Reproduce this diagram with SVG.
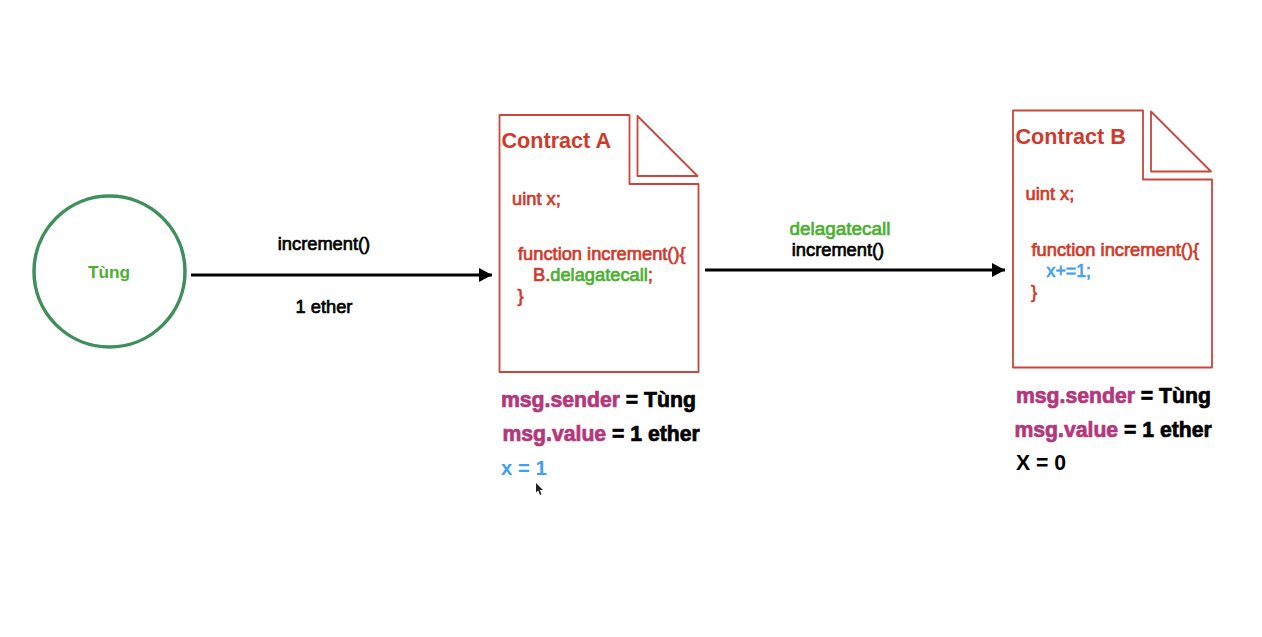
<svg xmlns="http://www.w3.org/2000/svg" width="1262" height="637" viewBox="0 0 1262 637">
<defs>
<marker id="arrow" markerUnits="userSpaceOnUse" markerWidth="14" markerHeight="15" refX="13" refY="7" orient="auto"><path d="M0 0L13 7L0 14Z" fill="#000"/></marker>
<g id="page"><path class="doc" d="M0 0H130V69H199V257H0Z"/><path class="doc" d="M138 1V61H198Z"/></g>
</defs>
<style>
text{font-family:"Liberation Sans",Arial,sans-serif;font-weight:400;stroke-width:.7;paint-order:stroke}
.doc{fill:none;stroke:#c9463c;stroke-width:1.800;stroke-linejoin:round}
.r{fill:#cf3a2b;stroke:#cf3a2b}.g{fill:#4caf32;stroke:#4caf32}.b{fill:#42a0f0;stroke:#42a0f0}.k{fill:#000;stroke:#000}.p{fill:#b3377a;stroke:#b3377a}
.t{font-size:21.600px;font-weight:700;stroke:none}.c{font-size:18.300px}.l{font-size:18.300px}.v{font-size:21.200px;font-weight:700;stroke:none}
.line{stroke:#000;stroke-width:3;fill:none;marker-end:url(#arrow)}
</style>
<g id="connectors">
<path class="line" d="M191 275H492"/>
<path class="line" d="M705 270H1005"/>
</g>
<g id="tung">
<circle cx="109.500" cy="271.500" r="75.500" fill="none" stroke="#3f8f5c" stroke-width="3.500"/>
<text class="g" x="109" y="277.500" text-anchor="middle" style="font-size:17.300px;font-weight:700;stroke:none">Tùng</text>
</g>
<g id="label-1">
<text class="k l" x="324" y="249.500" text-anchor="middle">increment()</text>
<text class="k l" x="324" y="312.500" text-anchor="middle">1 ether</text>
</g>
<g id="label-2">
<text class="g l" x="840" y="234.500" text-anchor="middle" style="font-size:18.900px">delagatecall</text>
<text class="k l" x="838" y="255.500" text-anchor="middle">increment()</text>
</g>
<g id="contract-a">
<use href="#page" x="499.500" y="115"/>
<text class="r t" x="501.500" y="148">Contract A</text>
<text class="r c" x="512" y="204.500">uint x;</text>
<text class="r c" x="518" y="260">function increment(){</text>
<text class="r c" x="533" y="281">B.<tspan class="g">delagatecall</tspan>;</text>
<text class="r c" x="517.500" y="302">}</text>
</g>
<g id="state-a">
<text class="v" x="501" y="407"><tspan class="p">msg.sender</tspan><tspan class="k"> = Tùng</tspan></text>
<text class="v" x="502.500" y="441"><tspan class="p">msg.value</tspan><tspan class="k"> = 1 ether</tspan></text>
<text class="v b" x="501" y="475" style="font-size:20.300px">x = 1</text>
</g>
<g id="contract-b">
<use href="#page" x="1013" y="110.500"/>
<text class="r t" x="1015.500" y="143.500">Contract B</text>
<text class="r c" x="1025.500" y="199.500">uint x;</text>
<text class="r c" x="1031.500" y="255.500">function increment(){</text>
<text class="b c" x="1046.500" y="276.500" style="font-size:17.800px">x+=1;</text>
<text class="r c" x="1031" y="297.500">}</text>
</g>
<g id="state-b">
<text class="v" x="1016" y="402.500"><tspan class="p">msg.sender</tspan><tspan class="k"> = Tùng</tspan></text>
<text class="v" x="1014.500" y="436.500"><tspan class="p">msg.value</tspan><tspan class="k"> = 1 ether</tspan></text>
<text class="v k" x="1016" y="470">X = 0</text>
</g>
<path id="cursor" d="M536 483V492.500L538.200 490.500L540 495L541.500 494.300L539.800 490H543Z" fill="#222"/>
</svg>
